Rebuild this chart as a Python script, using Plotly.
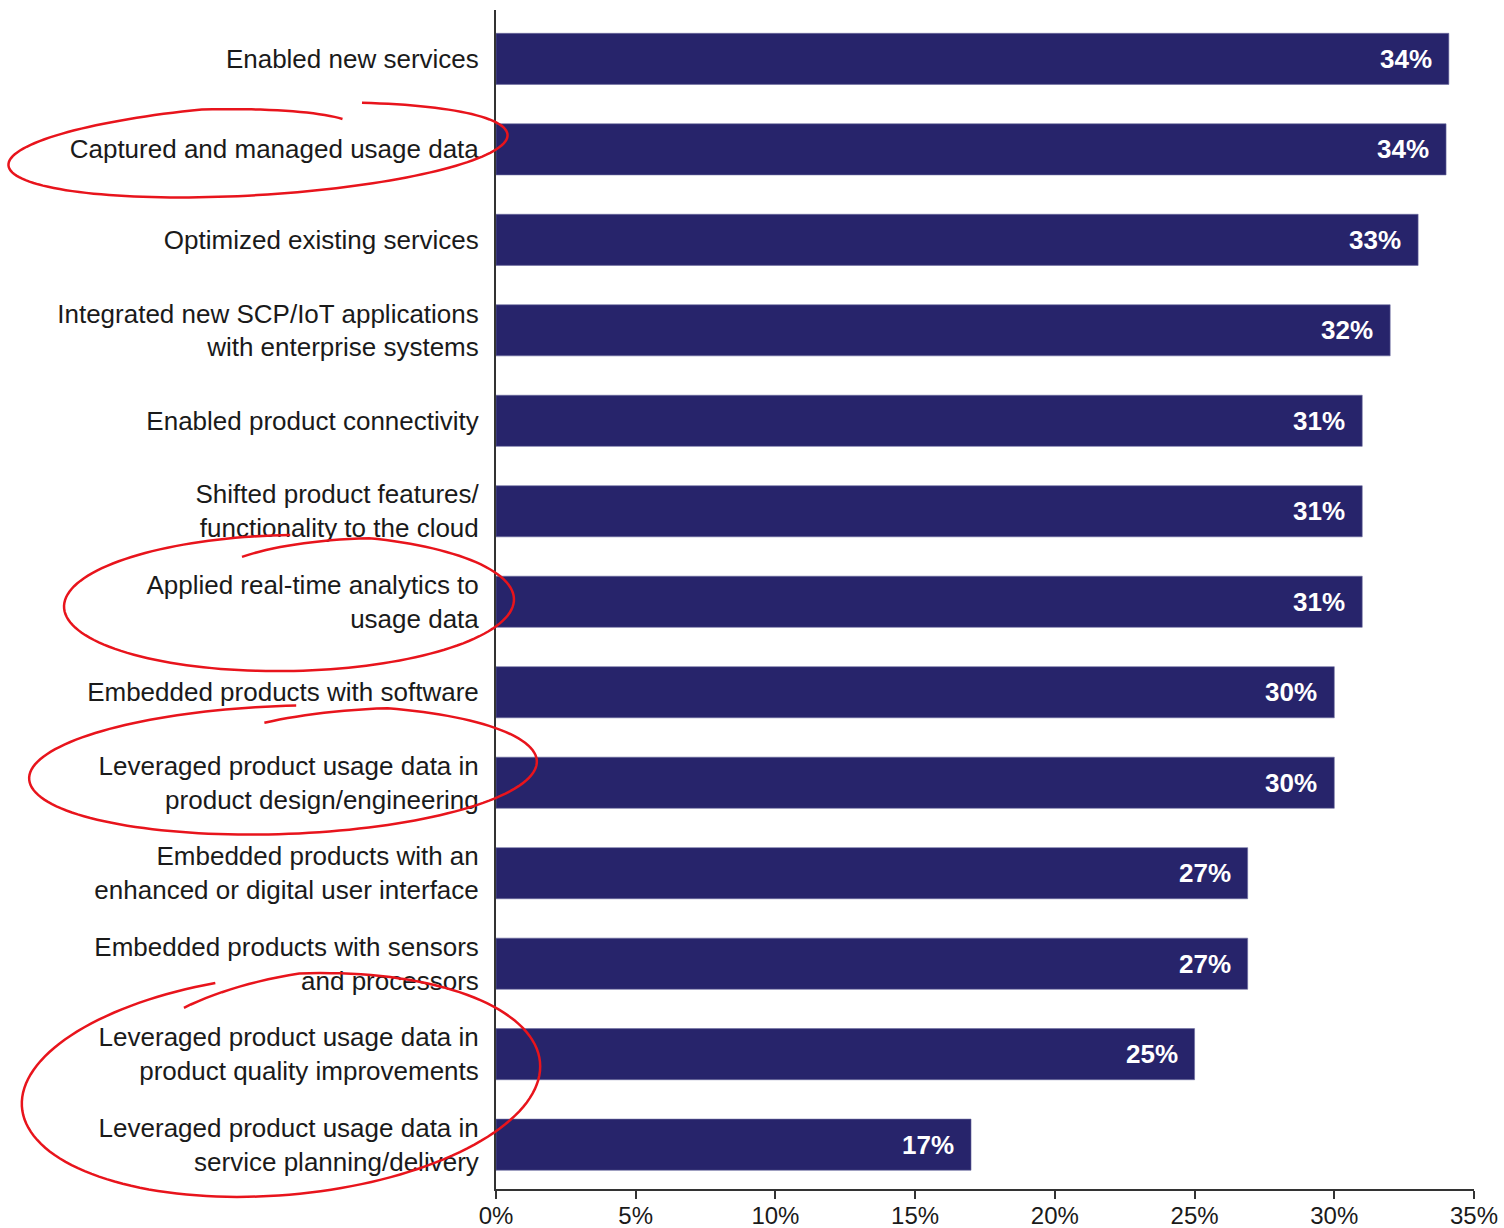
import numpy as np
import plotly.graph_objects as go

categories = [
    "Enabled new services",
    "Captured and managed usage data",
    "Optimized existing services",
    "Integrated new SCP/IoT applications<br>with enterprise systems",
    "Enabled product connectivity",
    "Shifted product features/<br>functionality to the cloud",
    "Applied real-time analytics to<br>usage data",
    "Embedded products with software",
    "Leveraged product usage data in<br>product design/engineering",
    "Embedded products with an<br>enhanced or digital user interface",
    "Embedded products with sensors<br>and processors",
    "Leveraged product usage data in<br>product quality improvements",
    "Leveraged product usage data in<br>service planning/delivery",
]
values = [34.1, 34.0, 33.0, 32.0, 31.0, 31.0, 31.0, 30.0, 30.0, 26.9, 26.9, 25.0, 17.0]
value_labels = ["34%", "34%", "33%", "32%", "31%", "31%", "31%", "30%", "30%", "27%", "27%", "25%", "17%"]
x_tickvals = [0, 5, 10, 15, 20, 25, 30, 35]
x_ticktext = ["0%", "5%", "10%", "15%", "20%", "25%", "30%", "35%"]

W, H = 1504, 1228
L, R, T, B = 496, 30, 10, 39
PW, PH = W - L - R, H - T - B
FONT = "Liberation Sans, Arial, Helvetica, sans-serif"

fig = go.Figure()
fig.add_trace(go.Bar(
    x=values, y=categories, orientation="h",
    marker=dict(color="#27246b", line=dict(color="#6d6ba0", width=0.6)),
    width=0.565, hoverinfo="skip",
))

for v, lab, c in zip(values, value_labels, categories):
    fig.add_annotation(x=v, y=c, text="<b>" + lab + "</b>", showarrow=False, xanchor="right",
                       xshift=-15, font=dict(family=FONT, size=26, color="white"),
                       xref="x", yref="y")

# hand-drawn red ellipses (decoration), defined in pixel space
def px2paper(px, py):
    return (px - L) / PW, (T + PH - py) / PH

def ellipse_path(cx, cy, a, b, tilt_deg, t0, sweep, s_start, f1, s_end, f2):
    th = np.deg2rad(tilt_deg)
    n = 160
    pts = []
    for i in range(n + 1):
        frac = i / n
        t = t0 + sweep * frac
        s = 1 - s_start * max(0.0, 1 - frac / f1) - s_end * max(0.0, (frac - (1 - f2)) / f2)
        x = a * s * np.cos(t)
        y = b * s * np.sin(t)
        xr = cx + x * np.cos(th) - y * np.sin(th)
        yr = cy + x * np.sin(th) + y * np.cos(th)
        pts.append(px2paper(xr, yr))
    return "M {:.5f},{:.5f} ".format(*pts[0]) + " ".join("L {:.5f},{:.5f}".format(*p) for p in pts[1:])

ellipses = [
    (258, 150, 250, 45, -3.5, -1.13, 2 * np.pi + 0.1, 0.0, 0.1, 0.33, 0.12),
    (289, 603, 225, 68, -1.0, -1.86, 2 * np.pi + 0.3, 0.28, 0.1, 0.0, 0.1),
    (283, 770, 254, 64, -2.0, -1.66, 2 * np.pi + 0.15, 0.25, 0.08, 0.0, 0.1),
    (281, 1085, 260, 110, -5.0, -1.99, 2 * np.pi + 0.2, 0.15, 0.08, 0.0, 0.1),
]
for e in ellipses:
    fig.add_shape(type="path", path=ellipse_path(*e), xref="paper", yref="paper",
                  line=dict(color="#e8141c", width=2.5), layer="above")

fig.update_layout(
    width=W, height=H,
    margin=dict(l=L, r=R, t=T, b=B, autoexpand=False),
    paper_bgcolor="white", plot_bgcolor="white",
    showlegend=False,
    font=dict(family=FONT, size=26, color="#1a1a1a"),
)
fig.update_xaxes(
    range=[0, 35], tickvals=x_tickvals, ticktext=x_ticktext,
    showgrid=False, zeroline=False, showline=True, linecolor="#333333", linewidth=2,
    ticks="outside", ticklen=8, tickwidth=2, tickcolor="#333333",
    ticklabelstandoff=-4,
    tickfont=dict(family=FONT, size=24, color="#1a1a1a"),
)
fig.update_yaxes(
    type="category", range=[12.49, -0.54],
    showgrid=False, zeroline=False, showline=True, linecolor="#333333", linewidth=2,
    ticks="", ticklabelstandoff=10,
    tickfont=dict(family=FONT, size=26, color="#1a1a1a"),
)

fig.write_html("out.html")
